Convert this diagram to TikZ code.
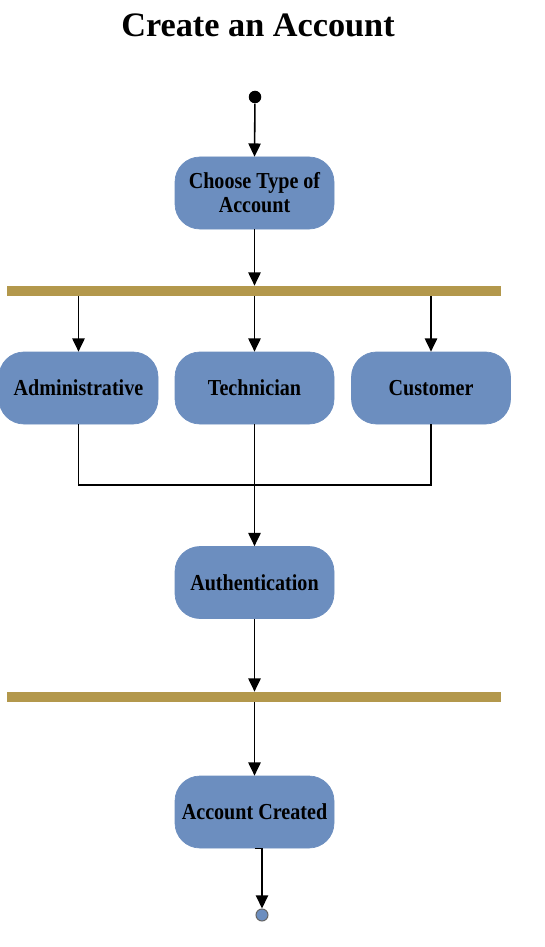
\documentclass[tikz,border=0pt]{standalone}
\usepackage{fontspec}
\setmainfont{Liberation Serif}
\newfontfamily\diagfont[FakeStretch=0.88]{Liberation Serif}
\usetikzlibrary{arrows.meta}

\begin{document}
\begin{tikzpicture}[
    activity/.style={rectangle, rounded corners=0.5cm, fill=activityFill, draw=activityFill,
        minimum width=3.18cm, minimum height=1.44cm, align=center,
        font=\diagfont\bfseries\fontsize{13}{13.6}\selectfont},
    forkbar/.style={rectangle, fill=barColour, inner sep=0pt, minimum width=9.88cm, minimum height=0.2cm},
    flow/.style={line width=0.9pt, -{Triangle[length=7.5pt,width=7pt]}},
    joinline/.style={line width=0.9pt}
]
    \definecolor{activityFill}{HTML}{6C8EBF}
    \definecolor{barColour}{HTML}{B3984C}
    \definecolor{endFill}{HTML}{6C8EBF}

    \useasboundingbox (0,0) rectangle (10.88,-18.94);

    % Title
    \node[font=\bfseries\fontsize{19.5}{22}\selectfont] (title) at (5.16,-0.5) {Create an Account};

    % Start and end points
    \node[circle, fill=black, inner sep=0pt, minimum size=0.25cm] (start) at (5.10,-1.94) {};
    \node[circle, fill=endFill, draw=black!60, line width=0.6pt, inner sep=0pt, minimum size=0.24cm] (finish) at (5.24,-18.3) {};

    % Activities
    \node[activity] (choose) at (5.09,-3.86) {Choose Type of\\Account};
    \node[activity] (admin) at (1.57,-7.76) {Administrative};
    \node[activity] (tech) at (5.09,-7.76) {Technician};
    \node[activity] (cust) at (8.62,-7.76) {Customer};
    \node[activity] (auth) at (5.09,-11.65) {Authentication};
    \node[activity] (created) at (5.09,-16.24) {Account Created};

    % Fork bars
    \node[forkbar] (forkA) at (5.08,-5.82) {};
    \node[forkbar] (forkB) at (5.08,-13.94) {};

    % Merge point below the three account types
    \coordinate (merge) at (tech.south |- 0,-9.7);

    % Flow
    \draw[flow] (start) -- (choose.north);
    \draw[flow] (choose.south) -- (choose.south |- forkA.north);
    \draw[flow] (admin.north |- forkA.south) -- (admin.north);
    \draw[flow] (tech.north |- forkA.south) -- (tech.north);
    \draw[flow] (cust.north |- forkA.south) -- (cust.north);
    \draw[joinline] (admin.south) |- (merge) -| (cust.south);
    \draw[flow] (tech.south) -- (auth.north);
    \draw[flow] (auth.south) -- (auth.south |- forkB.north);
    \draw[flow] (created.north |- forkB.south) -- (created.north);
    \draw[flow] (created.south) -| (finish.north);

\end{tikzpicture}
\end{document}
